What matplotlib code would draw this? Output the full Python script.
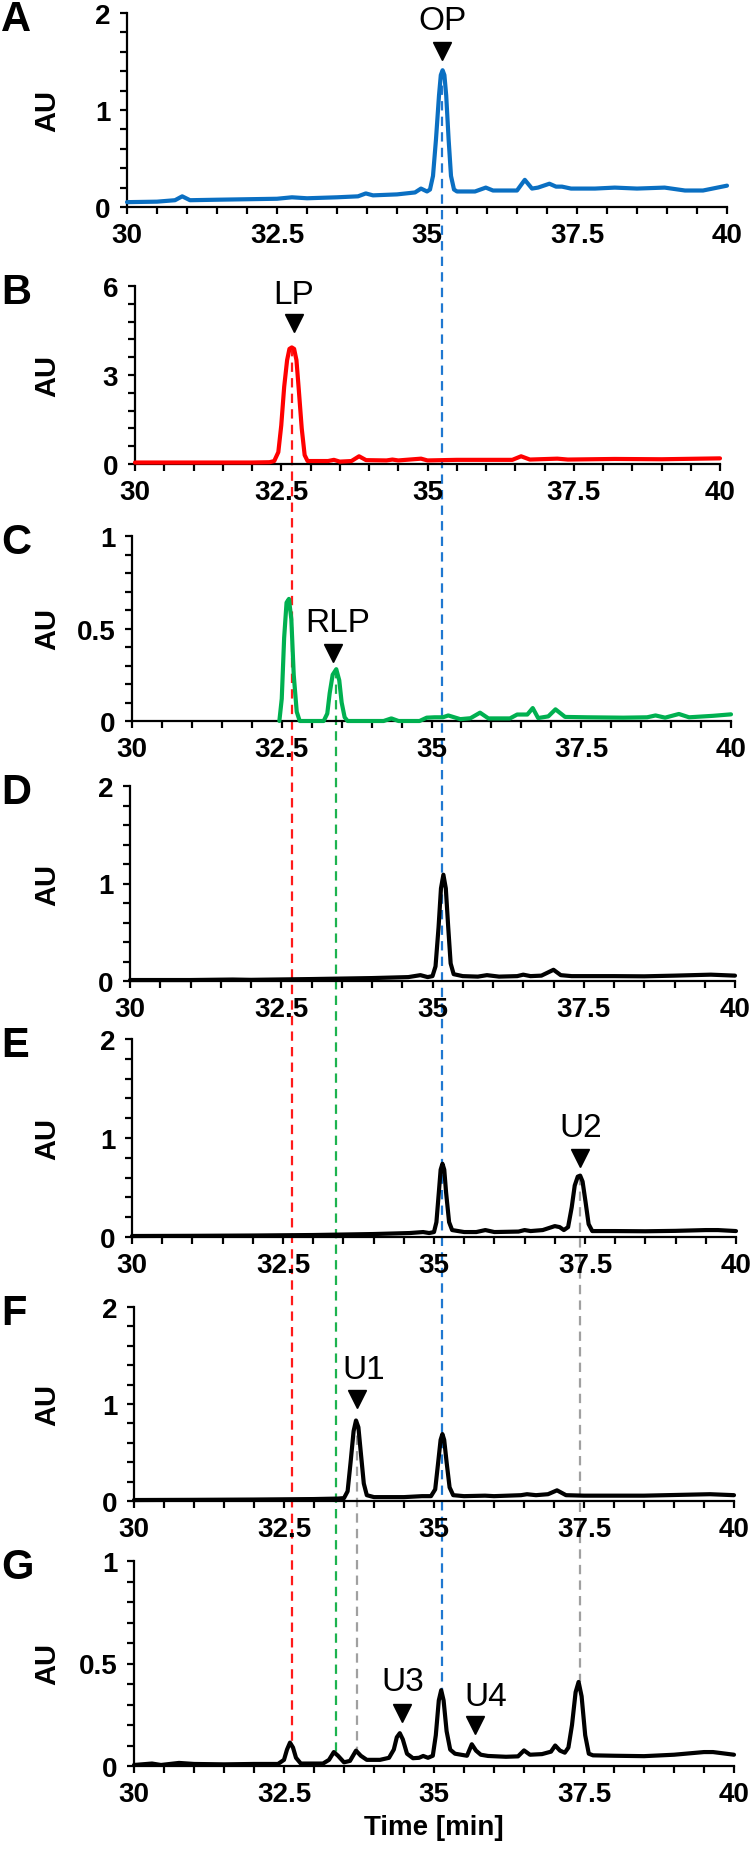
import matplotlib
matplotlib.use("Agg")
import matplotlib.pyplot as plt
from matplotlib.ticker import MultipleLocator, FuncFormatter
from matplotlib.lines import Line2D

# ---------------- data ----------------
A_time = [30.0, 30.5, 30.8, 30.92, 31.05, 31.5, 32.0, 32.5, 32.75, 33.0, 33.5, 33.85, 33.98, 34.1,
          34.5, 34.8, 34.9, 35.0, 35.05, 35.1, 35.15, 35.2, 35.23, 35.26, 35.29, 35.32, 35.36, 35.4,
          35.45, 35.5, 35.8, 35.98, 36.1, 36.5, 36.63, 36.75, 36.85, 37.04, 37.15, 37.25, 37.4, 37.8,
          38.13, 38.5, 38.96, 39.3, 39.6, 40.0]
A_au = [0.05, 0.055, 0.07, 0.11, 0.07, 0.075, 0.08, 0.085, 0.1, 0.09, 0.1, 0.11, 0.14, 0.12,
        0.13, 0.15, 0.19, 0.16, 0.18, 0.32, 0.7, 1.15, 1.36, 1.41, 1.36, 1.15, 0.7, 0.32,
        0.18, 0.16, 0.16, 0.2, 0.17, 0.17, 0.28, 0.19, 0.2, 0.24, 0.21, 0.21, 0.19, 0.19,
        0.2, 0.19, 0.2, 0.17, 0.17, 0.22]

B_time = [30.0, 31.0, 32.0, 32.3, 32.38, 32.45, 32.5, 32.55, 32.6, 32.64, 32.68, 32.72, 32.76, 32.8,
          32.85, 32.9, 32.95, 33.3, 33.4, 33.5, 33.7, 33.83, 33.95, 34.3, 34.4, 34.5, 34.89, 35.0,
          35.5, 36.0, 36.45, 36.6, 36.75, 37.22, 37.4, 38.2, 39.0, 40.0]
B_au = [0.05, 0.05, 0.05, 0.06, 0.1, 0.4, 1.3, 2.6, 3.5, 3.88, 3.93, 3.88, 3.5, 2.5,
        1.2, 0.3, 0.1, 0.1, 0.14, 0.08, 0.1, 0.26, 0.13, 0.12, 0.15, 0.12, 0.18, 0.12,
        0.14, 0.14, 0.14, 0.26, 0.15, 0.18, 0.15, 0.17, 0.16, 0.19]

C_time = [32.46, 32.5, 32.54, 32.58, 32.62, 32.66, 32.7, 32.75, 32.8, 33.2, 33.26, 33.3, 33.35, 33.41,
          33.46, 33.5, 33.55, 33.6, 34.2, 34.33, 34.45, 34.8, 34.92, 35.05, 35.19, 35.28, 35.48,
          35.65, 35.81, 35.95, 36.31, 36.43, 36.6, 36.69, 36.78, 36.95, 37.07, 37.23, 37.6, 38.2,
          38.6, 38.74, 38.9, 39.13, 39.3, 39.7, 40.0]
C_au = [0.0, 0.12, 0.45, 0.64, 0.66, 0.55, 0.25, 0.05, 0.0, 0.0, 0.04, 0.15, 0.25, 0.28,
        0.22, 0.1, 0.02, 0.0, 0.0, 0.014, 0.0, 0.0, 0.018, 0.02, 0.02, 0.03, 0.01,
        0.015, 0.045, 0.014, 0.014, 0.035, 0.035, 0.07, 0.016, 0.025, 0.063, 0.022, 0.02, 0.018,
        0.02, 0.03, 0.018, 0.038, 0.02, 0.028, 0.036]

D_time = [30.0, 31.0, 31.7, 32.0, 33.0, 34.0, 34.6, 34.8, 34.92, 35.0, 35.05, 35.1, 35.14, 35.18,
          35.22, 35.26, 35.3, 35.35, 35.5, 35.75, 35.9, 36.1, 36.4, 36.5, 36.62, 36.8, 37.0, 37.12,
          37.3, 38.0, 38.5, 39.0, 39.6, 40.0]
D_au = [0.01, 0.01, 0.015, 0.012, 0.02, 0.03, 0.04, 0.06, 0.04, 0.05, 0.15, 0.55, 0.95, 1.09,
        0.95, 0.55, 0.18, 0.07, 0.05, 0.045, 0.06, 0.045, 0.05, 0.065, 0.05, 0.055, 0.115, 0.06,
        0.05, 0.05, 0.048, 0.055, 0.065, 0.055]

E_time = [30.0, 31.0, 32.0, 33.0, 34.0, 34.6, 34.82, 34.92, 35.0, 35.04, 35.08, 35.11, 35.14, 35.17,
          35.2, 35.25, 35.3, 35.5, 35.7, 35.85, 36.0, 36.4, 36.5, 36.6, 36.8, 37.0, 37.08, 37.15,
          37.22, 37.28, 37.33, 37.38, 37.42, 37.46, 37.51, 37.56, 37.62, 38.0, 38.5, 39.0, 39.5,
          39.7, 40.0]
E_au = [0.01, 0.012, 0.015, 0.02, 0.03, 0.04, 0.05, 0.04, 0.05, 0.15, 0.45, 0.68, 0.74, 0.68,
        0.45, 0.15, 0.07, 0.05, 0.05, 0.07, 0.05, 0.055, 0.07, 0.06, 0.07, 0.11, 0.1, 0.07,
        0.1, 0.3, 0.52, 0.61, 0.62, 0.56, 0.35, 0.13, 0.06, 0.06, 0.058, 0.062, 0.07,
        0.07, 0.06]

F_time = [30.0, 31.0, 32.0, 33.0, 33.4, 33.5, 33.56, 33.61, 33.66, 33.7, 33.74, 33.78, 33.83, 33.88,
          34.0, 34.5, 34.8, 34.95, 35.02, 35.07, 35.11, 35.14, 35.17, 35.21, 35.26, 35.32, 35.5,
          35.85, 36.0, 36.45, 36.55, 36.7, 36.9, 37.05, 37.2, 37.5, 38.5, 39.6, 40.0]
F_au = [0.01, 0.012, 0.015, 0.02, 0.025, 0.03, 0.1, 0.4, 0.72, 0.83, 0.76, 0.5, 0.18, 0.06,
        0.04, 0.04, 0.05, 0.05, 0.12, 0.4, 0.63, 0.69, 0.63, 0.4, 0.14, 0.06, 0.05,
        0.055, 0.05, 0.06, 0.07, 0.06, 0.07, 0.11, 0.06, 0.055, 0.055, 0.07, 0.06]

G_time = [30.0, 30.3, 30.45, 30.75, 31.0, 31.5, 32.0, 32.4, 32.5, 32.55, 32.6, 32.65, 32.7, 32.78,
          33.15, 33.25, 33.33, 33.4, 33.5, 33.6, 33.7, 33.78, 33.88, 34.1, 34.25, 34.33, 34.38,
          34.43, 34.48, 34.55, 34.65, 34.75, 34.82, 34.9, 34.98, 35.03, 35.08, 35.12, 35.16, 35.21,
          35.27, 35.35, 35.45, 35.55, 35.63, 35.7, 35.78, 35.9, 36.2, 36.4, 36.5, 36.6, 36.8, 36.95,
          37.02, 37.1, 37.18, 37.24, 37.3, 37.36, 37.41, 37.46, 37.52, 37.58, 37.65, 38.0, 38.5,
          39.0, 39.5, 39.65, 40.0]
G_au = [0.005, 0.012, 0.005, 0.015, 0.01, 0.008, 0.01, 0.01, 0.03, 0.08, 0.114, 0.09, 0.04, 0.012,
        0.012, 0.03, 0.068, 0.05, 0.018, 0.025, 0.075, 0.05, 0.03, 0.03, 0.04, 0.08, 0.14,
        0.16, 0.13, 0.06, 0.038, 0.04, 0.049, 0.04, 0.05, 0.15, 0.32, 0.37, 0.32, 0.17,
        0.08, 0.06, 0.055, 0.05, 0.106, 0.075, 0.055, 0.049, 0.045, 0.047, 0.076, 0.055, 0.058, 0.07,
        0.1, 0.075, 0.065, 0.09, 0.2, 0.36, 0.41, 0.34, 0.15, 0.06, 0.052, 0.05, 0.048,
        0.055, 0.068, 0.068, 0.055]

panel_letters = ["A", "B", "C", "D", "E", "F", "G"]
panel_times = [A_time, B_time, C_time, D_time, E_time, F_time, G_time]
panel_values = [A_au, B_au, C_au, D_au, E_au, F_au, G_au]
y_max = [2, 6, 1, 2, 2, 2, 1]
y_major = [1, 3, 0.5, 1, 1, 1, 0.5]
x_range = [30, 40]
x_major = 2.5
x_minor = 0.5

# peak markers: (panel, label, triangle x, triangle y, text x, text y)
peak_labels = [
    (0, "OP", 35.25, 1.61, 35.25, 1.92),
    (1, "LP", 32.72, 4.75, 32.72, 5.73),
    (2, "RLP", 33.36, 0.37, 33.44, 0.53),
    (4, "U2", 37.41, 0.80, 37.43, 1.11),
    (5, "U1", 33.72, 1.05, 33.83, 1.36),
    (6, "U3", 34.46, 0.26, 34.48, 0.41),
    (6, "U4", 35.68, 0.20, 35.86, 0.34),
]

# guide lines: (source panel, time, source peak AU, AU of matching peak in G, colour)
guide_lines = [
    (0, 35.25, 1.41, 0.37, "#1F78D1"),
    (1, 32.68, 3.93, 0.114, "#FF1A1A"),
    (2, 33.41, 0.28, 0.068, "#1DB34F"),
    (4, 37.41, 0.62, 0.41, "#A0A0A0"),
    (5, 33.72, 0.83, 0.075, "#A0A0A0"),
]

# ---------------- styling / layout ----------------
trace_colors = ["#0A6FC2", "#FF0000", "#00B050", "black", "black", "black", "black"]
W, H = 750, 1858
# (left, right, top, zero) in pixels
boxes = [
    (127, 727, 14, 208),
    (135, 720, 287, 465),
    (132, 731, 537, 722),
    (130, 735, 787, 982),
    (132, 736, 1040, 1238),
    (134, 734, 1308, 1502),
    (134, 734, 1562, 1767),
]

plt.rcParams["font.family"] = ["Liberation Sans", "DejaVu Sans"]

fig = plt.figure(figsize=(W / 100, H / 100), dpi=100)
fig.patch.set_facecolor("white")

axes = []
for i in range(7):
    l, r, t, z = boxes[i]
    ax = fig.add_axes([l / W, (H - z) / H, (r - l) / W, (z - t) / H])
    ax.patch.set_visible(False)
    ax.plot(panel_times[i], panel_values[i], color=trace_colors[i], lw=3.0,
            solid_joinstyle="round", solid_capstyle="round", clip_on=False, zorder=3)
    ax.set_xlim(*x_range)
    ax.set_ylim(0, y_max[i])
    for s in ["top", "right"]:
        ax.spines[s].set_visible(False)
    for s in ["left", "bottom"]:
        ax.spines[s].set_linewidth(1.6)
    ax.xaxis.set_major_locator(MultipleLocator(x_major))
    ax.xaxis.set_minor_locator(MultipleLocator(x_minor))
    ax.yaxis.set_major_locator(MultipleLocator(y_major[i]))
    ax.yaxis.set_minor_locator(MultipleLocator(y_major[i] / 5))
    fmt = FuncFormatter(lambda v, p: f"{v:g}")
    ax.xaxis.set_major_formatter(fmt)
    ax.yaxis.set_major_formatter(fmt)
    ax.tick_params(which="both", direction="out", length=5, width=1.6)
    ax.tick_params(axis="x", which="major", pad=6, labelsize=20)
    ax.tick_params(axis="y", which="major", pad=7, labelsize=20)
    for lab in ax.get_xticklabels() + ax.get_yticklabels():
        lab.set_fontweight("bold")
    # y axis label
    fig.text(47 / W, (H - (t + z) / 2) / H, "AU", rotation=90, ha="center", va="center",
             fontsize=21, fontweight="bold")
    # panel letter
    fig.text(1 / W, (H - (t + 6)) / H, panel_letters[i], ha="left", va="center",
             fontsize=30, fontweight="bold")
    axes.append(ax)

axes[6].set_xlabel("Time [min]", fontsize=20, fontweight="bold", labelpad=5)

for (pi, lab, tx, ty, lx, ly) in peak_labels:
    ax = axes[pi]
    ax.plot([tx], [ty], marker="v", color="black", markersize=13, linestyle="none",
            clip_on=False, zorder=4)
    ax.text(lx, ly, lab, ha="center", va="center", fontsize=24, clip_on=False, zorder=4)

inv = fig.transFigure.inverted()
for (pi, tx, y0, y1, col) in guide_lines:
    px, py0 = axes[pi].transData.transform((tx, y0))
    _, py1 = axes[6].transData.transform((30, y1))
    (fx, fy0) = inv.transform((px, py0))
    (_, fy1) = inv.transform((px, py1))
    ln = Line2D([fx, fx], [fy0, fy1], color=col, lw=1.6, linestyle=(0, (4.2, 2.8)),
                transform=fig.transFigure, zorder=-1)
    fig.add_artist(ln)

fig.savefig("out.png", dpi=100, facecolor="white")
